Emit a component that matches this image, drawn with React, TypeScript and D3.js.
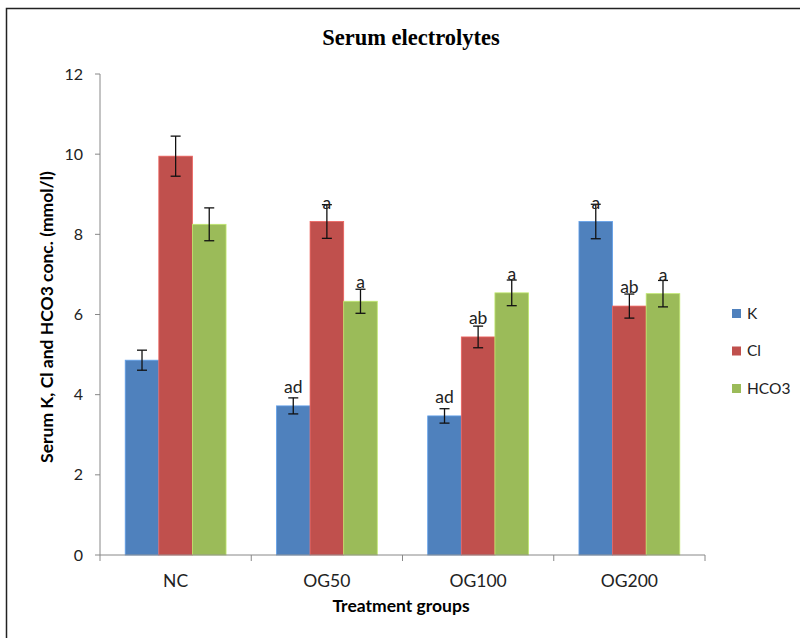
import React, { useRef, useEffect } from "react";
import * as d3 from "d3";

const groups = ["NC", "OG50", "OG100", "OG200"];
const seriesNames = ["K", "Cl", "HCO3"];
const colours = ["#4F81BD", "#C0504D", "#9BBB59"];

const kValues = [4.86, 3.72, 3.47, 8.32];
const clValues = [9.95, 8.32, 5.44, 6.21];
const hco3Values = [8.25, 6.33, 6.54, 6.52];

const kErr = [0.25, 0.2, 0.18, 0.43];
const clErr = [0.5, 0.42, 0.27, 0.3];
const hco3Err = [0.41, 0.3, 0.32, 0.33];

const kLabels = ["", "ad", "ad", "a"];
const clLabels = ["", "a", "ab", "ab"];
const hco3Labels = ["", "a", "a", "a"];

const yTicks = [0, 2, 4, 6, 8, 10, 12];

const dims = { width: 800, height: 638 };
const plot = { left: 100, right: 705, top: 74, bottom: 555 };
const font = "Lato, 'Open Sans', sans-serif";

const App = () => {
    const canvas = useRef(null);

    useEffect(() => {
        const svg = d3.select(canvas.current);
        svg.selectAll("*").remove();

        // outer frame (cut off at right and bottom in the original)
        svg.append("rect")
            .attr("x", 6.5)
            .attr("y", 8.5)
            .attr("width", 820)
            .attr("height", 660)
            .attr("fill", "white")
            .attr("stroke", "#222")
            .attr("stroke-width", 1.5);

        const x0 = d3.scaleBand().domain(groups).range([plot.left, plot.right]);
        const bw = x0.bandwidth();
        const x1 = d3
            .scaleBand()
            .domain(seriesNames)
            .range([bw / 6, bw - bw / 6]);
        const y = d3.scaleLinear().domain([0, 12]).range([plot.bottom, plot.top]);

        const series = [
            { name: "K", values: kValues, err: kErr, labels: kLabels },
            { name: "Cl", values: clValues, err: clErr, labels: clLabels },
            { name: "HCO3", values: hco3Values, err: hco3Err, labels: hco3Labels },
        ];

        // title
        svg.append("text")
            .attr("x", 411)
            .attr("y", 45)
            .attr("text-anchor", "middle")
            .attr("font-family", "'Liberation Serif', 'Times New Roman', serif")
            .attr("font-weight", "bold")
            .attr("font-size", 22.5)
            .text("Serum electrolytes");

        // y axis
        const yAxis = svg.append("g").attr("transform", `translate(${plot.left},0)`);
        yAxis.append("line")
            .attr("x1", 0).attr("x2", 0)
            .attr("y1", y(12)).attr("y2", y(0))
            .attr("stroke", "#888");
        yAxis.selectAll("line.tick")
            .data(yTicks)
            .enter()
            .append("line")
            .attr("class", "tick")
            .attr("x1", -5).attr("x2", 0)
            .attr("y1", (d) => y(d)).attr("y2", (d) => y(d))
            .attr("stroke", "#888");
        yAxis.selectAll("text")
            .data(yTicks)
            .enter()
            .append("text")
            .attr("x", -17)
            .attr("y", (d) => y(d))
            .attr("dy", "0.35em")
            .attr("text-anchor", "end")
            .attr("font-family", font)
            .attr("font-size", 16)
            .attr("fill", "#222")
            .text((d) => d);

        svg.append("text")
            .attr("transform", `translate(53,317) rotate(-90)`)
            .attr("text-anchor", "middle")
            .attr("font-family", font)
            .attr("font-weight", "bold")
            .attr("font-size", 17.5)
            .text("Serum K, Cl and HCO3 conc. (mmol/l)");

        // bars
        const g = svg.append("g");
        series.forEach((s, si) => {
            const sg = g.append("g");
            const pos = (i) => x0(groups[i]) + x1(s.name);
            sg.selectAll("rect")
                .data(s.values)
                .enter()
                .append("rect")
                .attr("x", (d, i) => pos(i))
                .attr("y", (d) => y(d))
                .attr("width", x1.bandwidth())
                .attr("height", (d) => y(0) - y(d))
                .attr("fill", colours[si])
                .attr("stroke", d3.color(colours[si]).brighter(0.6))
                .attr("stroke-width", 0.8);

            // error bars
            const eg = sg.append("g").attr("stroke", "#111").attr("stroke-width", 1.3);
            s.values.forEach((v, i) => {
                const cx = pos(i) + x1.bandwidth() / 2;
                const hi = y(v + s.err[i]);
                const lo = y(v - s.err[i]);
                eg.append("line").attr("x1", cx).attr("x2", cx).attr("y1", hi).attr("y2", lo);
                eg.append("line").attr("x1", cx - 5).attr("x2", cx + 5).attr("y1", hi).attr("y2", hi);
                eg.append("line").attr("x1", cx - 5).attr("x2", cx + 5).attr("y1", lo).attr("y2", lo);
            });

            // significance letters
            sg.selectAll("text")
                .data(s.labels)
                .enter()
                .append("text")
                .attr("x", (d, i) => pos(i) + x1.bandwidth() / 2)
                .attr("y", (d, i) => y(s.values[i]) - 13)
                .attr("text-anchor", "middle")
                .attr("font-family", font)
                .attr("font-size", 17.5)
                .attr("fill", "#222")
                .text((d) => d);
        });

        // x axis
        const xAxis = svg.append("g");
        xAxis.append("line")
            .attr("x1", plot.left).attr("x2", plot.right)
            .attr("y1", y(0)).attr("y2", y(0))
            .attr("stroke", "#888");
        const bounds = groups.map((d) => x0(d)).concat([plot.right]);
        xAxis.selectAll("line.tick")
            .data(bounds)
            .enter()
            .append("line")
            .attr("class", "tick")
            .attr("x1", (d) => d).attr("x2", (d) => d)
            .attr("y1", y(0)).attr("y2", y(0) + 6)
            .attr("stroke", "#888");
        xAxis.selectAll("text")
            .data(groups)
            .enter()
            .append("text")
            .attr("x", (d) => x0(d) + bw / 2)
            .attr("y", 587)
            .attr("text-anchor", "middle")
            .attr("font-family", font)
            .attr("font-size", 17.5)
            .attr("fill", "#222")
            .text((d) => d);

        svg.append("text")
            .attr("x", 401)
            .attr("y", 612)
            .attr("text-anchor", "middle")
            .attr("font-family", font)
            .attr("font-weight", "bold")
            .attr("font-size", 17.5)
            .text("Treatment groups");

        // legend
        const legend = svg.append("g").attr("transform", "translate(732,309)");
        seriesNames.forEach((name, i) => {
            const row = legend.append("g").attr("transform", `translate(0,${i * 37.5})`);
            row.append("rect")
                .attr("width", 9)
                .attr("height", 9)
                .attr("fill", colours[i]);
            row.append("text")
                .attr("x", 15)
                .attr("y", 9.5)
                .attr("font-family", font)
                .attr("font-size", 15.5)
                .attr("fill", "#222")
                .text(name);
        });
    });

    return (
        <svg
            ref={canvas}
            width={dims.width}
            height={dims.height}
            style={{ position: "absolute", left: 0, top: 0, background: "white" }}
        />
    );
};

export default App;
